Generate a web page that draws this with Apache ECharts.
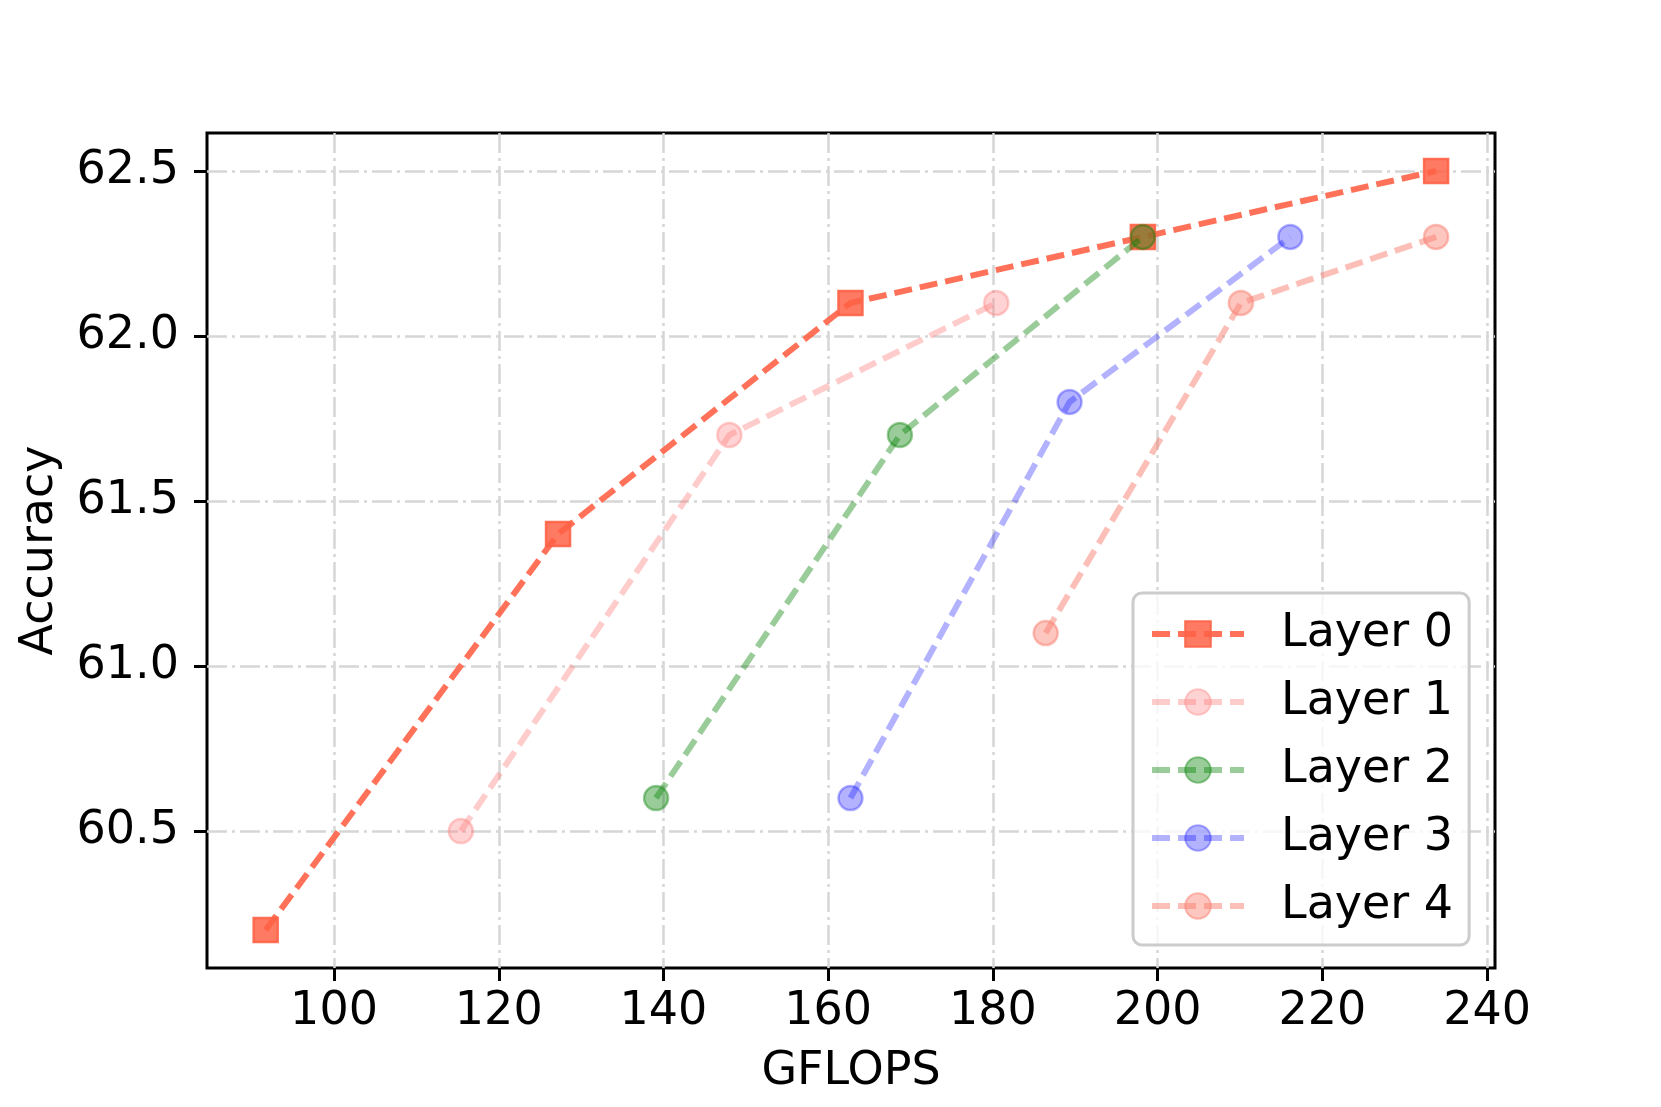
<!DOCTYPE html>
<html>
<head>
<meta charset="utf-8">
<script src="https://cdn.jsdelivr.net/npm/echarts@6/dist/echarts.min.js"></script>
<style>
  html, body { margin: 0; padding: 0; background: #fff; }
  #chart { width: 1661px; height: 1107px; }
</style>
</head>
<body>
<div id="chart"></div>
<script>
// data: GFLOPS (x) vs Accuracy (y)
const layerNames = ['Layer 0', 'Layer 1', 'Layer 2', 'Layer 3', 'Layer 4'];
const layer0X = [91.7, 127.2, 162.7, 198.2, 233.8];
const layer0Y = [60.2, 61.4, 62.1, 62.3, 62.5];
const layer1X = [115.4, 148.0, 180.4];
const layer1Y = [60.5, 61.7, 62.1];
const layer2X = [139.1, 168.7, 198.2];
const layer2Y = [60.6, 61.7, 62.3];
const layer3X = [162.7, 189.3, 216.1];
const layer3Y = [60.6, 61.8, 62.3];
const layer4X = [186.4, 210.1, 233.8];
const layer4Y = [61.1, 62.1, 62.3];
const xTicks = [100, 120, 140, 160, 180, 200, 220, 240];
const yTicks = [60.5, 61.0, 61.5, 62.0, 62.5];

const FONT = 'DejaVu Sans';
const LINE_W = 6;
const DASH = [18, 8];

let chart = echarts.init(document.getElementById('chart'), null, { renderer: 'canvas' });

function zip(xs, ys) {
  return xs.map((x, i) => [x, ys[i]]);
}

// one line series, matplotlib-ish look (dashed line + marker with alpha)
function makeSeries(name, xs, ys, symbol, lineColor, fill, edge, z) {
  return {
    name: name,
    type: 'line',
    data: zip(xs, ys),
    symbol: symbol,
    symbolSize: 24,
    showSymbol: true,
    z: z,
    lineStyle: { color: lineColor, width: LINE_W, type: DASH },
    itemStyle: { color: fill, borderColor: edge, borderWidth: 2.5 },
    emphasis: { disabled: true },
  };
}

let option = {
  animation: false,
  grid: {
    left: 207,
    top: 133,
    right: 166,
    bottom: 139,
    show: true,
    borderColor: '#000',
    borderWidth: 3,
    backgroundColor: 'transparent',
  },
  legend: {
    orient: 'vertical',
    left: 1133,
    top: 593,
    padding: [18, 16, 16, 16],
    itemWidth: 92,
    itemHeight: 32,
    itemGap: 22,
    borderColor: '#cccccc',
    borderWidth: 3,
    borderRadius: 9,
    backgroundColor: 'rgba(255,255,255,0.8)',
    lineStyle: { width: LINE_W, type: DASH },
    textStyle: {
      fontFamily: FONT,
      fontSize: 46,
      lineHeight: 46,
      color: '#000',
      padding: [0, 0, 0, 32],
    },
    data: layerNames,
  },
  xAxis: {
    type: 'value',
    min: 84.58,
    max: 240.95,
    name: 'GFLOPS',
    nameLocation: 'middle',
    nameGap: 81,
    nameTextStyle: { fontFamily: FONT, fontSize: 46, color: '#000' },
    axisLine: { show: false },
    axisTick: {
      show: true,
      inside: false,
      length: 13,
      lineStyle: { color: '#000', width: 3 },
      customValues: xTicks,
    },
    axisLabel: {
      fontFamily: FONT,
      fontSize: 46,
      color: '#000',
      margin: 21,
      customValues: xTicks,
      formatter: (v) => String(v),
    },
    splitLine: {
      show: true,
      lineStyle: { color: '#d6d6d6', width: 2.5, type: [20, 5, 3, 5] },
    },
  },
  yAxis: {
    type: 'value',
    min: 60.085,
    max: 62.615,
    name: 'Accuracy',
    nameLocation: 'middle',
    nameGap: 144,
    nameTextStyle: { fontFamily: FONT, fontSize: 46, color: '#000' },
    axisLine: { show: false },
    axisTick: {
      show: true,
      inside: false,
      length: 13,
      lineStyle: { color: '#000', width: 3 },
      customValues: yTicks,
    },
    axisLabel: {
      fontFamily: FONT,
      fontSize: 46,
      color: '#000',
      margin: 28,
      customValues: yTicks,
      formatter: (v) => v.toFixed(1),
    },
    splitLine: {
      show: true,
      lineStyle: { color: '#d6d6d6', width: 2.5, type: [20, 5, 3, 5] },
    },
  },
  series: [
    makeSeries(layerNames[0], layer0X, layer0Y, 'rect',
      'rgba(255,99,71,0.9)', 'rgba(255,99,71,0.85)', 'rgba(255,99,71,0.9)', 2),
    makeSeries(layerNames[1], layer1X, layer1Y, 'circle',
      'rgba(255,128,128,0.4)', 'rgba(255,128,128,0.35)', 'rgba(255,128,128,0.4)', 3),
    makeSeries(layerNames[2], layer2X, layer2Y, 'circle',
      'rgba(0,128,0,0.4)', 'rgba(0,128,0,0.4)', 'rgba(0,128,0,0.4)', 4),
    makeSeries(layerNames[3], layer3X, layer3Y, 'circle',
      'rgba(0,0,255,0.3)', 'rgba(0,0,255,0.3)', 'rgba(0,0,255,0.3)', 5),
    makeSeries(layerNames[4], layer4X, layer4Y, 'circle',
      'rgba(250,128,114,0.5)', 'rgba(250,128,114,0.45)', 'rgba(250,128,114,0.5)', 6),
  ],
};

chart.setOption(option);
</script>
</body>
</html>
